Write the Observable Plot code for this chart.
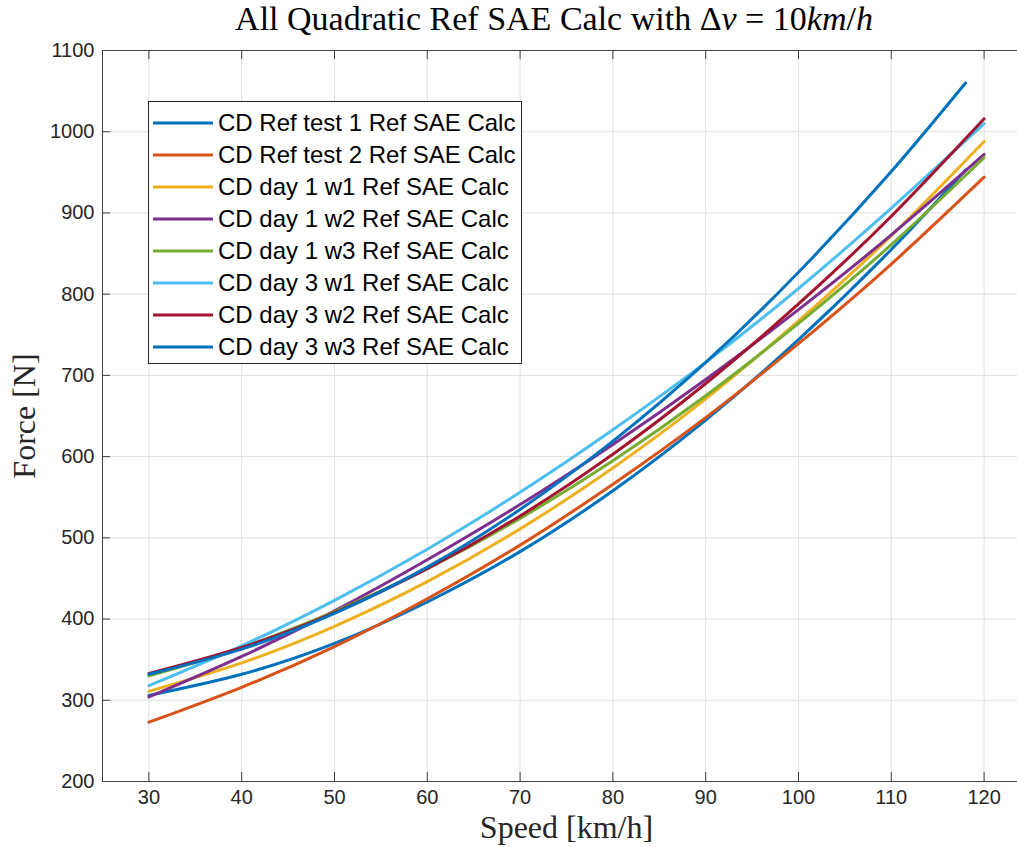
<!DOCTYPE html>
<html>
<head>
<meta charset="utf-8">
<script src="https://cdn.jsdelivr.net/npm/d3@7"></script>
<script src="https://cdn.jsdelivr.net/npm/@observablehq/plot@0.6"></script>
<style>
  html, body { margin: 0; padding: 0; background: #fff; overflow: hidden; }
  #fig { position: relative; width: 1017px; height: 847px; overflow: hidden; }
  #chart { position: absolute; left: 0; top: 0; width: 1030px; height: 847px; }
  #chart svg { max-width: none !important; }
  #title {
    position: absolute; left: 0; width: 1108px; top: 0px; text-align: center;
    font-family: "Liberation Serif", "DejaVu Serif", serif; font-size: 34px; color: #000;
    white-space: nowrap;
  }
  #legend {
    position: absolute; left: 148px; top: 101px; width: 372px; height: 261px;
    border: 1px solid #262626; background: #fff;
    font-family: "Liberation Sans", Arial, sans-serif; font-size: 24px; color: #000;
  }
  #legend .row { position: absolute; left: 0; height: 32px; line-height: 32px; white-space: nowrap; }
  #legend svg { position: absolute; left: 4px; top: 0; }
  #legend span { position: absolute; left: 69px; top: 0; }
</style>
</head>
<body>
<div id="fig">
  <div id="chart"></div>
  <div id="title">All Quadratic Ref SAE Calc with &Delta;<i>v</i> = 10<i>km</i>/<i>h</i></div>
  <div id="legend"></div>
</div>
<script>
// Speed grid (km/h) at which each curve is tabulated
const speedFull = [30, 40, 50, 60, 70, 80, 90, 100, 110, 120];
const speedShort = [30, 40, 50, 60, 70, 80, 90, 100, 110, 118];

// Road-load force (N) of each reference SAE calculation
const refTest1 = [306, 332, 370, 421, 483, 558, 645, 744, 855, 953];
const refTest2 = [273, 316, 366, 425, 491, 566, 648, 739, 837, 944];
const day1w1 = [311, 346, 391, 446, 511, 586, 671, 767, 872, 988];
const day1w2 = [304, 354, 410, 473, 541, 615, 695, 781, 873, 972];
const day1w3 = [330, 365, 409, 462, 524, 595, 675, 764, 861, 968];
const day3w1 = [318, 367, 423, 486, 556, 633, 716, 807, 906, 1010];
const day3w2 = [333, 365, 408, 462, 527, 603, 690, 788, 896, 1016];
const day3w3 = [332, 363, 407, 464, 535, 619, 716, 827, 951, 1060];

const seriesNames = [
  "CD Ref test 1 Ref SAE Calc",
  "CD Ref test 2 Ref SAE Calc",
  "CD day 1 w1 Ref SAE Calc",
  "CD day 1 w2 Ref SAE Calc",
  "CD day 1 w3 Ref SAE Calc",
  "CD day 3 w1 Ref SAE Calc",
  "CD day 3 w2 Ref SAE Calc",
  "CD day 3 w3 Ref SAE Calc"
];
const seriesValues = [refTest1, refTest2, day1w1, day1w2, day1w3, day3w1, day3w2, day3w3];
const seriesSpeeds = [speedShort, speedFull, speedFull, speedFull, speedFull, speedFull, speedFull, speedShort];
const seriesColors = ["#0072BD", "#D95319", "#EDB120", "#7E2F8E", "#77AC30", "#4DBEEE", "#A2142F", "#0072BD"];

const xTicks = [30, 40, 50, 60, 70, 80, 90, 100, 110, 120];
const yTicks = [200, 300, 400, 500, 600, 700, 800, 900, 1000, 1100];

// Long-format table for the line mark
const rows = seriesNames.flatMap((name, i) =>
  seriesValues[i].map((force, j) => ({series: name, speed: seriesSpeeds[i][j], force}))
);

const W = 1030, H = 847;
const mL = 102, mR = 0, mT = 50, mB = 66;
const frameW = W - mL - mR, frameH = H - mT - mB;
const axisColor = "#404040";
const gridColor = "#dfdfdf";
const sans = "'Liberation Sans', Arial, sans-serif";
const serif = "'Liberation Serif', 'DejaVu Serif', serif";

const chart = Plot.plot({
  width: W,
  height: H,
  marginLeft: mL,
  marginRight: mR,
  marginTop: mT,
  marginBottom: mB,
  style: {background: "transparent", fontFamily: sans, color: "#262626", maxWidth: "none"},
  x: {domain: [25, 125]},
  y: {domain: [200, 1100]},
  color: {domain: seriesNames, range: seriesColors},
  marks: [
    Plot.gridX(xTicks, {stroke: gridColor, strokeOpacity: 1}),
    Plot.gridY(yTicks, {stroke: gridColor, strokeOpacity: 1}),
    // box lines
    Plot.ruleY([200, 1100], {stroke: axisColor, strokeWidth: 1}),
    Plot.ruleX([25], {stroke: axisColor, strokeWidth: 1}),
    // inward tick marks
    Plot.tickY(yTicks, {y: d => d, insetRight: frameW - 8, stroke: axisColor}),
    Plot.tickX(xTicks, {x: d => d, insetTop: frameH - 9, stroke: axisColor}),
    Plot.tickX(xTicks, {x: d => d, insetBottom: frameH - 9, stroke: axisColor}),
    // tick labels
    Plot.axisY(yTicks, {tickSize: 0, tickPadding: 8, fontSize: 20, fill: "#262626", label: null, tickFormat: d => String(d)}),
    Plot.axisX(xTicks, {tickSize: 0, tickPadding: 8, fontSize: 20, fill: "#262626", label: null, tickFormat: d => String(d)}),
    // axis titles
    Plot.axisY([], {label: "Force [N]", labelAnchor: "center", labelArrow: "none", labelOffset: 90,
      fontSize: 32, fontFamily: serif, fill: "#262626", tickSize: 0}),
    Plot.axisX([], {label: "Speed [km/h]", labelAnchor: "center", labelArrow: "none", labelOffset: 56,
      fontSize: 32, fontFamily: serif, fill: "#262626", tickSize: 0}),
    // curves
    Plot.line(rows, {x: "speed", y: "force", z: "series", stroke: "series", strokeWidth: 3, curve: "natural"})
  ]
});
document.getElementById("chart").appendChild(chart);

// Legend built from the same names and colours
const legend = document.getElementById("legend");
seriesNames.forEach((name, i) => {
  const row = document.createElement("div");
  row.className = "row";
  row.style.top = (5 + 32 * i) + "px";
  row.innerHTML = `<svg width="62" height="32"><line x1="0" x2="60" y1="16" y2="16" stroke="${seriesColors[i]}" stroke-width="3"/></svg><span>${name}</span>`;
  legend.appendChild(row);
});
</script>
</body>
</html>
